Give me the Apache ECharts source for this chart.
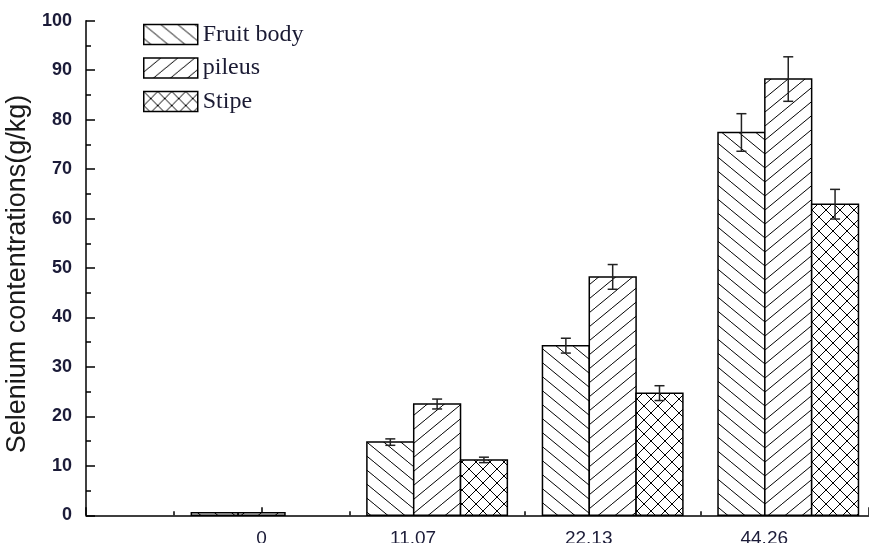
<!DOCTYPE html>
<html>
<head>
<meta charset="utf-8">
<script src="https://cdn.jsdelivr.net/npm/echarts@6/dist/echarts.min.js"></script>
<style>
  html, body { margin: 0; padding: 0; background: #fff; }
  #chart { width: 869px; height: 543px; }
</style>
</head>
<body>
<div id="chart"></div>
<script>
// Selenium dose groups (x categories)
const doses = ['0', '11.07', '22.13', '44.26'];
const seriesNames = ['Fruit body', 'pileus', 'Stipe'];

// Mean selenium content (g/kg) and standard deviation per tissue
const fruitBody    = [0.5, 14.8, 34.3, 77.4];
const fruitBodyErr = [0, 0.65, 1.5, 3.8];
const pileus       = [0.5, 22.5, 48.2, 88.2];
const pileusErr    = [0, 1.0, 2.5, 4.5];
const stipe        = [0, 11.2, 24.7, 62.9];
const stipeErr     = [0, 0.55, 1.5, 3.0];

// ---- hatch fills ----
function lineHatch(w, h, dir) {
  const c = document.createElement('canvas');
  c.width = w; c.height = h;
  const g = c.getContext('2d');
  g.fillStyle = '#fff';
  g.fillRect(0, 0, w, h);
  g.strokeStyle = '#000';
  g.lineWidth = 1;
  for (const dx of [-w, 0, w]) {
    g.beginPath();
    if (dir > 0) { g.moveTo(dx, 0); g.lineTo(dx + w, h); }
    else { g.moveTo(dx, h); g.lineTo(dx + w, 0); }
    g.stroke();
  }
  return { image: c, repeat: 'repeat' };
}
function crossHatch(s) {
  const c = document.createElement('canvas');
  c.width = s; c.height = s;
  const g = c.getContext('2d');
  g.fillStyle = '#fff';
  g.fillRect(0, 0, s, s);
  g.strokeStyle = '#000';
  g.lineWidth = 1;
  for (const dx of [-s, 0, s]) {
    g.beginPath(); g.moveTo(dx, 0); g.lineTo(dx + s, s); g.stroke();
    g.beginPath(); g.moveTo(dx, s); g.lineTo(dx + s, 0); g.stroke();
  }
  g.fillStyle = '#000';
  g.fillRect(s / 2 - 1, s / 2 - 1, 2, 2);
  g.fillRect(-1, -1, 2, 2); g.fillRect(s - 1, -1, 2, 2);
  g.fillRect(-1, s - 1, 2, 2); g.fillRect(s - 1, s - 1, 2, 2);
  return { image: c, repeat: 'repeat' };
}
const fills = [lineHatch(17, 14, 1), lineHatch(17, 14, -1), crossHatch(14)];

// ---- grouped bars with error bars ----
function barSeries(idx, values, errors) {
  return {
    name: seriesNames[idx],
    type: 'custom',
    itemStyle: { color: fills[idx], borderColor: '#000', borderWidth: 1.5 },
    data: values.map((v, i) => [i, v, errors[i]]),
    renderItem: function (params, api) {
      const x = api.value(0), v = api.value(1), e = api.value(2);
      const unit = api.size([1, 0])[0];
      const barW = unit * 0.8 / 3;
      const base = api.coord([x, 0]);
      const top = api.coord([x, v]);
      const left = base[0] - 1.5 * barW + idx * barW;
      const children = [];
      if (v > 0) {
        children.push({
          type: 'rect',
          shape: { x: left, y: top[1], width: barW, height: base[1] - top[1] },
          style: { fill: fills[idx], stroke: '#000', lineWidth: 1.5 }
        });
      }
      if (e > 0) {
        const hi = api.coord([x, v + e])[1];
        const lo = api.coord([x, v - e])[1];
        const cx = left + barW / 2;
        const es = { stroke: '#222', lineWidth: 1.5 };
        children.push(
          { type: 'line', shape: { x1: cx, y1: hi, x2: cx, y2: lo }, style: es },
          { type: 'line', shape: { x1: cx - 5, y1: hi, x2: cx + 5, y2: hi }, style: es },
          { type: 'line', shape: { x1: cx - 5, y1: lo, x2: cx + 5, y2: lo }, style: es }
        );
      }
      return { type: 'group', children: children };
    },
    z: 3
  };
}

const chart = echarts.init(document.getElementById('chart'), null, { renderer: 'canvas' });

const tickFont = { fontFamily: 'Liberation Sans', fontSize: 19, color: '#1b1b38' };

chart.setOption({
  animation: false,
  backgroundColor: '#fff',
  grid: { left: 86, right: 0, top: 20.7, bottom: 27.7, containLabel: false, outerBoundsMode: 'none' },
  legend: {
    orient: 'vertical',
    left: 143,
    top: 22.5,
    padding: 0,
    itemWidth: 54,
    itemHeight: 20,
    itemGap: 9.5,
    icon: 'rect',
    textStyle: { fontFamily: 'Liberation Serif', fontSize: 24, color: '#1a1a33' },
    data: seriesNames.map((n, i) => ({
      name: n,
      itemStyle: { color: fills[i], borderColor: '#000', borderWidth: 1.5 }
    }))
  },
  xAxis: {
    type: 'value',
    min: -1,
    max: 3.46,
    interval: 1,
    splitLine: { show: false },
    axisLine: { onZero: false, lineStyle: { color: '#000', width: 1.5 } },
    axisTick: { inside: true, length: 8, lineStyle: { color: '#000', width: 1.5 } },
    minorTick: { show: true, splitNumber: 2, length: 4, lineStyle: { color: '#000', width: 1.5 } },
    axisLabel: {
      margin: 14,
      showMaxLabel: false,
      formatter: function (v) {
        const i = Math.round(v);
        if (Math.abs(v - i) > 1e-6 || i < 0 || i >= doses.length) return '';
        // non-zero dose labels sit a little left of their bar groups
        return i === 0 ? '{c|' + doses[i] + '}' : '{s|' + doses[i] + '}';
      },
      rich: {
        c: Object.assign({}, tickFont),
        s: Object.assign({ padding: [0, 48, 0, 0] }, tickFont)
      }
    }
  },
  yAxis: {
    type: 'value',
    min: 0,
    max: 100,
    interval: 10,
    name: 'Selenium contentrations(g/kg)',
    nameLocation: 'middle',
    nameRotate: 90,
    nameGap: 52,
    nameTextStyle: { fontFamily: 'Liberation Sans', fontSize: 27, color: '#1a1a1a', padding: [0, 12, 0, 0] },
    splitLine: { show: false },
    axisLine: { show: true, onZero: false, lineStyle: { color: '#000', width: 1.5 } },
    axisTick: { inside: true, length: 9, lineStyle: { color: '#000', width: 1.5 } },
    minorTick: { show: true, splitNumber: 2, length: 5, lineStyle: { color: '#000', width: 1.5 } },
    axisLabel: { margin: 14, fontFamily: 'Liberation Sans', fontSize: 18, fontWeight: 'bold', color: '#1b1b38' }
  },
  series: [
    barSeries(0, fruitBody, fruitBodyErr),
    barSeries(1, pileus, pileusErr),
    barSeries(2, stipe, stipeErr)
  ]
});
</script>
</body>
</html>
